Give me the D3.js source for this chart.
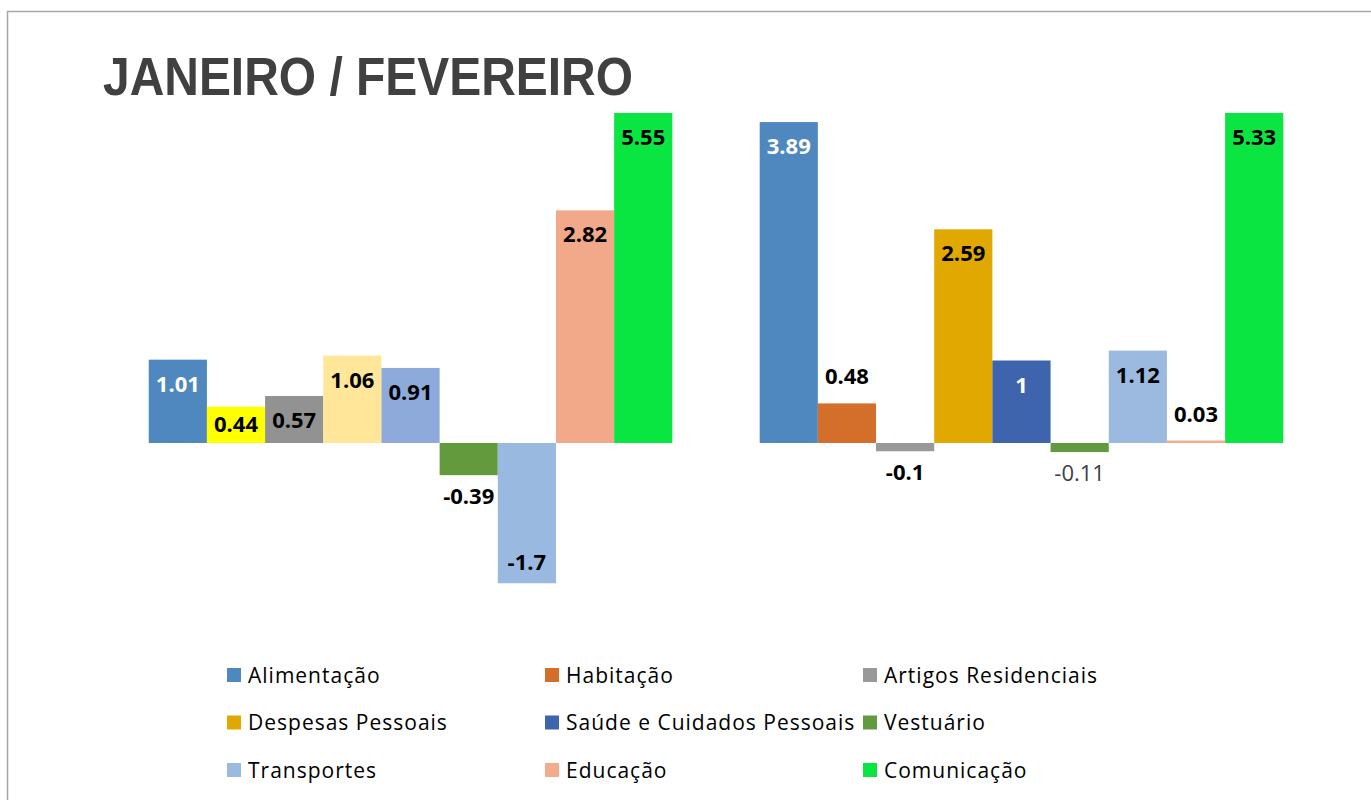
<!DOCTYPE html>
<html lang="pt">
<head>
<meta charset="utf-8">
<title>Janeiro / Fevereiro</title>
<script src="https://cdnjs.cloudflare.com/ajax/libs/d3/7.8.5/d3.min.js"></script>
<style>
  body { margin: 0; background: #fff; }
  svg { display: block; }
</style>
</head>
<body>
<script>
// categories (series) and months
var categories = ["Alimentação", "Habitação", "Artigos Residenciais", "Despesas Pessoais",
                  "Saúde e Cuidados Pessoais", "Vestuário", "Transportes", "Educação", "Comunicação"];
var months = ["Janeiro", "Fevereiro"];
var janeiro = [1.01, 0.44, 0.57, 1.06, 0.91, -0.39, -1.7, 2.82, 5.55];
var fevereiro = [3.89, 0.48, -0.1, 2.59, 1, -0.11, 1.12, 0.03, 5.33];

// series colours (legend) and the overrides used by the January points
var seriesColors = ["#4f88be", "#d36f2b", "#999999", "#e0a800", "#3d64ad", "#629a3f", "#9cbae0", "#f3ab8b", "#0be541"];
var janColors = ["#4f88be", "#ffff00", "#929292", "#ffe699", "#8eaadb", "#639a3e", "#9ab9e0", "#f2a98a", "#0ae641"];

var W = 1371, H = 800;
var svg = d3.select("body").append("svg").attr("width", W).attr("height", H);

svg.append("rect")
  .attr("x", 7.5).attr("y", 11.5).attr("width", W + 20).attr("height", H + 20)
  .attr("fill", "#fff").attr("stroke", "#a6a6a6").attr("stroke-width", 1.5);

svg.append("text")
  .attr("x", 103).attr("y", 95)
  .attr("textLength", 530).attr("lengthAdjust", "spacingAndGlyphs")
  .style("font-family", "Liberation Sans, Arial, sans-serif")
  .style("font-weight", "bold").style("font-size", "54px")
  .attr("fill", "#404040")
  .text("JANEIRO / FEVEREIRO");

var x0 = d3.scaleBand().domain(months).range([105, 1327]).paddingInner(0.143).paddingOuter(0.0716);
var x1 = d3.scaleBand().domain(categories).range([0, x0.bandwidth()]);
var y = d3.scaleLinear().domain([-2, 4]).range([608, 113]);

svg.append("clipPath").attr("id", "plot")
  .append("rect").attr("x", 0).attr("y", 113).attr("width", W).attr("height", 600);

var rows = [];
months.forEach(function(m, mi) {
  var vals = mi === 0 ? janeiro : fevereiro;
  categories.forEach(function(c, ci) {
    rows.push({ month: m, cat: c, value: vals[ci],
                color: mi === 0 ? janColors[ci] : seriesColors[ci] });
  });
});

// labels that Excel placed outside the bar end / drew without bold
var outsideLabels = ["Fevereiro|Habitação", "Fevereiro|Educação"];
var plainLabels = ["Fevereiro|Vestuário"];

var g = svg.append("g").attr("clip-path", "url(#plot)");
g.selectAll("rect.bar").data(rows).enter().append("rect")
  .attr("class", "bar")
  .attr("x", function(d) { return x0(d.month) + x1(d.cat); })
  .attr("width", x1.bandwidth())
  .attr("y", function(d) { return y(Math.max(0, d.value)); })
  .attr("height", function(d) { return Math.abs(y(d.value) - y(0)); })
  .attr("fill", function(d) { return d.color; });

var plotTop = y.range()[1];
function isInside(d) {
  var key = d.month + "|" + d.cat;
  var h = Math.abs(Math.max(y(d.value), plotTop) - y(0));
  return outsideLabels.indexOf(key) < 0 && h >= 34;
}
svg.selectAll("text.lbl").data(rows).enter().append("text")
  .attr("class", "lbl")
  .attr("x", function(d) { return x0(d.month) + x1(d.cat) + x1.bandwidth() / 2; })
  .attr("y", function(d) {
    var yv = Math.max(y(d.value), plotTop), y0 = y(0);
    if (d.value >= 0) {
      if (!isInside(d)) return yv - 19;
      return Math.min(yv + 32, y0 - 11);
    }
    if (!isInside(d)) return yv + 29;
    return yv - 13;
  })
  .attr("text-anchor", "middle")
  .style("font-family", "Open Sans, Noto Sans, sans-serif")
  .style("font-size", "22px")
  .style("font-weight", function(d) { return plainLabels.indexOf(d.month + "|" + d.cat) >= 0 ? "normal" : "bold"; })
  .attr("fill", function(d) {
    if (plainLabels.indexOf(d.month + "|" + d.cat) >= 0) return "#404040";
    return isInside(d) && d3.lab(d.color).l < 58 ? "#fff" : "#000";
  })
  .text(function(d) { return d.value; });

// legend, three columns
var legend = svg.append("g");
var li = legend.selectAll("g").data(categories).enter().append("g")
  .attr("transform", function(d, i) {
    return "translate(" + (227 + (i % 3) * 318) + "," + (668 + Math.floor(i / 3) * 47.5) + ")";
  });
li.append("rect").attr("width", 14).attr("height", 14)
  .attr("fill", function(d, i) { return seriesColors[i]; });
li.append("text").attr("x", 21).attr("y", 14.5)
  .style("font-family", "Open Sans, Noto Sans, sans-serif")
  .style("font-size", "21px").style("letter-spacing", "1px").attr("fill", "#000")
  .text(function(d) { return d; });
</script>
</body>
</html>
